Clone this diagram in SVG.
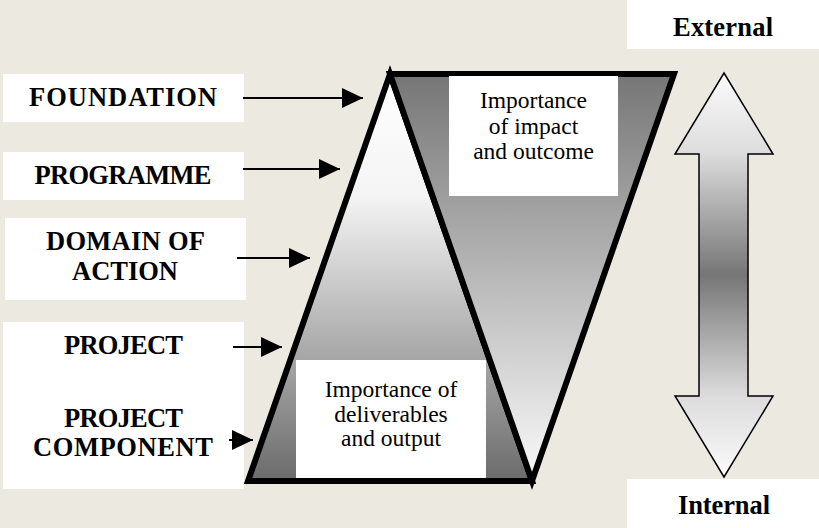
<svg xmlns="http://www.w3.org/2000/svg" width="819" height="528" viewBox="0 0 819 528">
<defs>
<style>
.bg{fill:#ECE9E0}
.box{fill:#ffffff}
.lbl{font-family:'Liberation Serif','Times New Roman',serif;font-weight:bold;font-size:26.5px;fill:#000;text-anchor:middle}
.txt{font-family:'Liberation Serif','Times New Roman',serif;font-size:23.5px;fill:#000;text-anchor:middle}
.shape{stroke:#000;stroke-width:6;stroke-linejoin:miter;stroke-miterlimit:4}
.conn{stroke:#000;stroke-width:2;fill:none;marker-end:url(#ah)}
</style>
<linearGradient id="gLeft" gradientUnits="userSpaceOnUse" x1="0" y1="74" x2="0" y2="480">
<stop offset="0" stop-color="#ffffff"/>
<stop offset="0.3" stop-color="#f4f4f4"/>
<stop offset="1" stop-color="#6c6c6c"/>
</linearGradient>
<linearGradient id="gRight" gradientUnits="userSpaceOnUse" x1="0" y1="74" x2="0" y2="480">
<stop offset="0" stop-color="#767676"/>
<stop offset="1" stop-color="#fafafa"/>
</linearGradient>
<linearGradient id="gArrow" gradientUnits="userSpaceOnUse" x1="0" y1="73" x2="0" y2="477">
<stop offset="0" stop-color="#fbfbfb"/>
<stop offset="0.2" stop-color="#dcdcdc"/>
<stop offset="0.5" stop-color="#767676"/>
<stop offset="0.8" stop-color="#dcdcdc"/>
<stop offset="1" stop-color="#fbfbfb"/>
</linearGradient>
<marker id="ah" markerUnits="userSpaceOnUse" markerWidth="21" markerHeight="20" refX="21" refY="10" orient="auto">
<path d="M0,0 L21,10 L0,20 Z" fill="#000"/>
</marker>
</defs>
<rect class="bg" x="0" y="0" width="819" height="528"/>

<g id="shapes">
<polygon class="shape" fill="url(#gLeft)" points="390,74 532,481 248,481"/>
<polygon class="shape" fill="url(#gRight)" points="390,74 674,74 532,481"/>
</g>

<g id="outcome-box">
<rect class="box" x="449" y="76" width="169" height="120"/>
<text class="txt" x="533.5" y="108">Importance</text>
<text class="txt" x="533.5" y="134">of impact</text>
<text class="txt" x="533.5" y="159">and outcome</text>
</g>

<g id="output-box">
<rect class="box" x="296" y="360" width="190" height="118"/>
<text class="txt" x="391" y="397">Importance of</text>
<text class="txt" x="391" y="422">deliverables</text>
<text class="txt" x="391" y="446">and output</text>
</g>

<g id="foundation">
<rect class="box" x="3" y="74" width="241" height="48"/>
<text class="lbl" x="123" y="106" textLength="188">FOUNDATION</text>
</g>
<g id="programme">
<rect class="box" x="3" y="152" width="241" height="48"/>
<text class="lbl" x="123" y="184" textLength="177">PROGRAMME</text>
</g>
<g id="domain">
<rect class="box" x="5" y="218" width="241" height="82"/>
<text class="lbl" x="125.5" y="250" textLength="159">DOMAIN OF</text>
<text class="lbl" x="125" y="280" textLength="106">ACTION</text>
</g>
<g id="project">
<rect class="box" x="3" y="322" width="241" height="167"/>
<text class="lbl" x="123.5" y="354" textLength="119">PROJECT</text>
<text class="lbl" x="123.5" y="427" textLength="119">PROJECT</text>
<text class="lbl" x="123" y="456" textLength="180">COMPONENT</text>
</g>

<g id="external">
<rect class="box" x="627" y="0" width="192" height="49"/>
<text class="lbl" x="723" y="36" textLength="100">External</text>
</g>
<g id="internal">
<rect class="box" x="627" y="479" width="192" height="49"/>
<text class="lbl" x="724" y="514" textLength="92">Internal</text>
</g>

<g id="scale-arrow">
<polygon points="724,73 773,154 748,154 748,396 773,396 724,477 675,396 699,396 699,154 675,154" fill="url(#gArrow)" stroke="#000" stroke-width="1.5" stroke-linejoin="miter"/>
</g>

<g id="connectors">
<line class="conn" x1="243" y1="98" x2="363" y2="98"/>
<line class="conn" x1="243" y1="169" x2="340" y2="169"/>
<line class="conn" x1="237" y1="258" x2="310" y2="258"/>
<line class="conn" x1="233" y1="347" x2="282" y2="347"/>
<line class="conn" x1="229" y1="440" x2="253" y2="440"/>
</g>
</svg>
